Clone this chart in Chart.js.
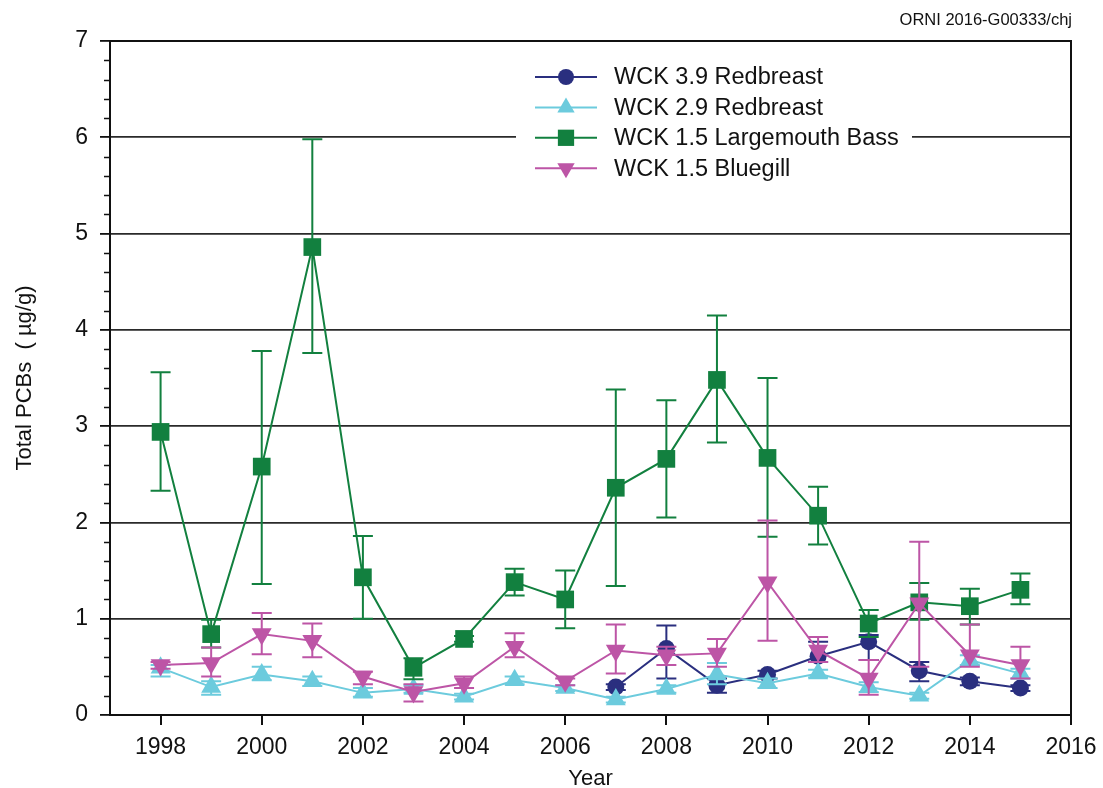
<!DOCTYPE html>
<html>
<head>
<meta charset="utf-8">
<script src="https://cdn.jsdelivr.net/npm/chart.js@4/dist/chart.umd.min.js"></script>
<style>
  html, body { margin: 0; padding: 0; background: #fff; }
  #wrap { position: relative; width: 1103px; height: 788px; }
  #tag { position: absolute; right: 31px; top: 10px; font: 16.5px 'Liberation Sans', Arial, sans-serif; color: #111; }
  canvas { display: block; }
</style>
</head>
<body>
<div id="wrap">
  <canvas id="c" width="1103" height="788"></canvas>
  <div id="tag">ORNI 2016-G00333/chj</div>
</div>
<script>
// Sampling years
const years = [1998, 1999, 2000, 2001, 2002, 2003, 2004, 2005, 2006, 2007, 2008, 2009, 2010, 2011, 2012, 2013, 2014, 2015];
const redbreastYears = [2007, 2008, 2009, 2010, 2011, 2012, 2013, 2014, 2015];
const xTickValues = [1998, 2000, 2002, 2004, 2006, 2008, 2010, 2012, 2014, 2016];

// WCK 3.9 Redbreast (mean, upper, lower) µg/g
const rb39Mean = [0.29, 0.69, 0.31, 0.42, 0.61, 0.76, 0.46, 0.35, 0.28];
const rb39Hi   = [0.32, 0.93, 0.38, 0.46, 0.76, 0.83, 0.55, 0.39, 0.31];
const rb39Lo   = [0.26, 0.38, 0.23, 0.38, 0.55, 0.57, 0.35, 0.31, 0.25];

// WCK 2.9 Redbreast
const rb29Mean = [0.49, 0.29, 0.42, 0.35, 0.23, 0.27, 0.19, 0.36, 0.28, 0.16, 0.27, 0.42, 0.33, 0.43, 0.29, 0.20, 0.57, 0.43];
const rb29Hi   = [0.52, 0.35, 0.50, 0.40, 0.28, 0.31, 0.22, 0.40, 0.31, 0.19, 0.31, 0.54, 0.38, 0.47, 0.34, 0.23, 0.62, 0.48];
const rb29Lo   = [0.40, 0.21, 0.36, 0.30, 0.19, 0.23, 0.16, 0.32, 0.25, 0.13, 0.23, 0.32, 0.28, 0.39, 0.24, 0.17, 0.52, 0.38];

// WCK 1.5 Largemouth Bass
const lmbMean = [2.94, 0.84, 2.58, 4.86, 1.43, 0.49, 0.79, 1.38, 1.20, 2.36, 2.66, 3.48, 2.67, 2.07, 0.95, 1.17, 1.13, 1.30];
const lmbHi   = [3.56, 0.99, 3.78, 5.98, 1.86, 0.59, 0.82, 1.52, 1.50, 3.38, 3.27, 4.15, 3.50, 2.37, 1.09, 1.37, 1.31, 1.47];
const lmbLo   = [2.33, 0.70, 1.36, 3.76, 1.00, 0.37, 0.76, 1.24, 0.90, 1.34, 2.05, 2.83, 1.85, 1.77, 0.81, 0.99, 0.94, 1.15];

// WCK 1.5 Bluegill
const bgMean = [0.52, 0.54, 0.84, 0.77, 0.40, 0.24, 0.33, 0.71, 0.35, 0.67, 0.62, 0.64, 1.38, 0.67, 0.38, 1.16, 0.62, 0.52];
const bgHi   = [0.55, 0.70, 1.06, 0.95, 0.45, 0.32, 0.40, 0.85, 0.38, 0.94, 0.71, 0.79, 2.02, 0.81, 0.57, 1.80, 0.94, 0.71];
const bgLo   = [0.48, 0.40, 0.63, 0.60, 0.32, 0.14, 0.28, 0.60, 0.31, 0.43, 0.52, 0.50, 0.77, 0.55, 0.21, 0.50, 0.50, 0.38];

const seriesNames = ['WCK 3.9 Redbreast', 'WCK 2.9 Redbreast', 'WCK 1.5 Largemouth Bass', 'WCK 1.5 Bluegill'];
const COLORS = { navy: '#2a2f7f', cyan: '#6ccbdd', green: '#12803f', magenta: '#bd55a6' };
const FONT = "'Liberation Sans', Arial, sans-serif";

function pts(xs, ys) { return xs.map((x, i) => ({ x: x, y: ys[i] })); }

function makeSet(label, xs, mean, hi, lo, color, style, radius, rotation, order) {
  return {
    label, data: pts(xs, mean), errHi: hi, errLo: lo,
    borderColor: color, backgroundColor: color, borderWidth: 2,
    pointStyle: style, pointRadius: radius, pointHoverRadius: radius,
    pointRotation: rotation, pointBorderWidth: 0, pointBackgroundColor: color,
    tension: 0, fill: false, order
  };
}

// Vertical error bars with caps, drawn just under each series
const errorBars = {
  id: 'errorBars',
  beforeDatasetDraw(chart, args) {
    const ds = chart.data.datasets[args.index];
    if (!ds.errHi) return;
    const xs = chart.scales.x, ys = chart.scales.y, ctx = chart.ctx;
    ctx.save();
    ctx.strokeStyle = ds.borderColor;
    ctx.lineWidth = 2;
    ds.data.forEach((p, i) => {
      const x = xs.getPixelForValue(p.x);
      const yh = ys.getPixelForValue(ds.errHi[i]);
      const yl = ys.getPixelForValue(ds.errLo[i]);
      ctx.beginPath();
      ctx.moveTo(x, yh); ctx.lineTo(x, yl);
      ctx.moveTo(x - 10, yh); ctx.lineTo(x + 10, yh);
      ctx.moveTo(x - 10, yl); ctx.lineTo(x + 10, yl);
      ctx.stroke();
    });
    ctx.restore();
  }
};

// Plot frame and minor ticks on the value axis
const frame = {
  id: 'frame',
  afterDraw(chart) {
    const a = chart.chartArea, ctx = chart.ctx, ys = chart.scales.y;
    ctx.save();
    ctx.strokeStyle = '#111';
    ctx.lineWidth = 2;
    ctx.strokeRect(a.left, a.top, a.right - a.left, a.bottom - a.top);
    ctx.lineWidth = 1.5;
    ctx.beginPath();
    for (let k = 1; k < 35; k++) {
      if (k % 5 === 0) continue;
      const y = Math.round(ys.getPixelForValue(k / 5)) + 0.5;
      ctx.moveTo(a.left - 6, y); ctx.lineTo(a.left, y);
    }
    ctx.stroke();
    ctx.restore();
  }
};

function drawMarker(ctx, style, x, y, r, color) {
  ctx.fillStyle = color;
  ctx.beginPath();
  if (style === 'circle') {
    ctx.arc(x, y, r, 0, Math.PI * 2);
  } else if (style === 'rect') {
    const s = r * Math.SQRT1_2;
    ctx.rect(x - s, y - s, 2 * s, 2 * s);
  } else {
    const dir = style === 'triangleDown' ? -1 : 1;
    const h = r * 0.5;
    ctx.moveTo(x, y - dir * r);
    ctx.lineTo(x - r * Math.sqrt(3) / 2, y + dir * h);
    ctx.lineTo(x + r * Math.sqrt(3) / 2, y + dir * h);
    ctx.closePath();
  }
  ctx.fill();
}

// Legend block inside the plot, with a white background
const insetLegend = {
  id: 'insetLegend',
  afterDatasetsDraw(chart) {
    const ctx = chart.ctx;
    const styles = ['circle', 'triangle', 'rect', 'triangleDown'];
    const radii = [8, 10, 11.5, 10];
    ctx.save();
    ctx.fillStyle = '#fff';
    ctx.fillRect(516, 56, 396, 130);
    ctx.font = '23.5px ' + FONT;
    ctx.textBaseline = 'middle';
    seriesNames.forEach((name, i) => {
      const ds = chart.data.datasets[i];
      const y = 77 + i * 30.4;
      ctx.strokeStyle = ds.borderColor;
      ctx.lineWidth = 2;
      ctx.beginPath(); ctx.moveTo(535, y); ctx.lineTo(597, y); ctx.stroke();
      drawMarker(ctx, styles[i], 566, y, radii[i], ds.borderColor);
      ctx.fillStyle = '#111';
      ctx.fillText(name, 614, y + 1);
    });
    ctx.restore();
  }
};

Chart.defaults.font.family = FONT;
Chart.defaults.color = '#111';

new Chart(document.getElementById('c'), {
  type: 'line',
  data: {
    datasets: [
      makeSet(seriesNames[0], redbreastYears, rb39Mean, rb39Hi, rb39Lo, COLORS.navy, 'circle', 8.5, 0, 4),
      makeSet(seriesNames[1], years, rb29Mean, rb29Hi, rb29Lo, COLORS.cyan, 'triangle', 11.5, 0, 3),
      makeSet(seriesNames[2], years, lmbMean, lmbHi, lmbLo, COLORS.green, 'rect', 12.5, 0, 2),
      makeSet(seriesNames[3], years, bgMean, bgHi, bgLo, COLORS.magenta, 'triangle', 11.5, 180, 1)
    ]
  },
  options: {
    responsive: false,
    animation: false,
    layout: { padding: { top: 41, right: 32, left: 0, bottom: 0 } },
    plugins: { legend: { display: false }, tooltip: { enabled: false } },
    scales: {
      x: {
        type: 'linear', min: 1997, max: 2016,
        afterBuildTicks(scale) { scale.ticks = xTickValues.map(v => ({ value: v })); },
        afterFit(scale) { scale.height = 73; },
        ticks: { callback: v => String(v), font: { size: 23, lineHeight: 1.45 }, color: '#111', padding: 6, maxRotation: 0, autoSkip: false },
        grid: { drawOnChartArea: false, tickLength: 10, tickColor: '#111', lineWidth: 2 },
        border: { display: true, color: '#111', width: 2 },
        title: { display: true, text: 'Year', font: { size: 22, lineHeight: 0.8 }, color: '#111', padding: { top: 0, bottom: 0 } }
      },
      y: {
        min: 0, max: 7,
        afterFit(scale) { scale.width = 110; },
        ticks: { stepSize: 1, callback: v => String(v), font: { size: 23 }, color: '#111', padding: 12 },
        grid: { color: '#2a2a2a', lineWidth: 1.8, tickLength: 10, tickColor: '#111' },
        border: { display: true, color: '#111', width: 2 },
        title: { display: true, text: 'Total PCBs  ( µg/g)', font: { size: 22 }, color: '#111', padding: { top: 12, bottom: 0 } }
      }
    }
  },
  plugins: [errorBars, frame, insetLegend]
});
</script>
</body>
</html>
